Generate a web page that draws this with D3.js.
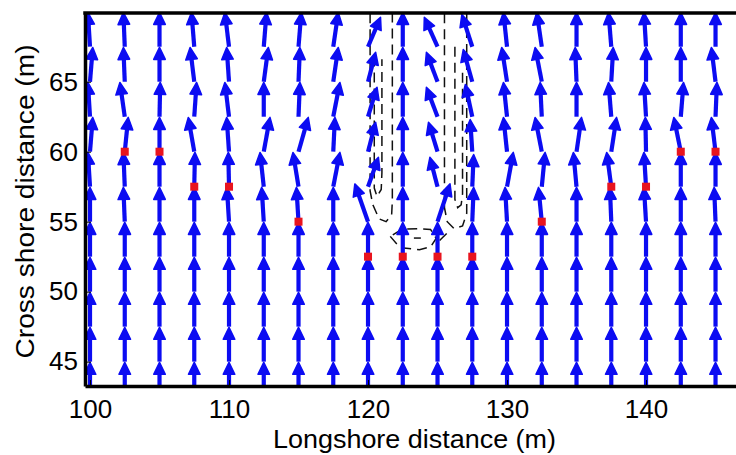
<!DOCTYPE html>
<html><head><meta charset="utf-8">
<script src="https://cdn.jsdelivr.net/npm/d3@7"></script>
<style>body{margin:0;background:#fff;overflow:hidden}</style>
</head><body><svg id="c" width="736" height="455"></svg>
<script>
// ---------- data ----------
const xGrid = [100,102.5,105,107.5,110,112.5,115,117.5,120,122.5,125,127.5,130,132.5,135,137.5,140,142.5,145];
const yGrid = [42.5,45,47.5,50,52.5,55,57.5,60,62.5,65,67.5];
// u components (m), one array per row of yGrid
const uRows = [
  [0,0,0,0,0,0,0,0,0,0,0,0,0,0,0,0,0,0,0],
  [0,0,0,0,0,0,0,0,0,0,0,0,0,0,0,0,0,0,0],
  [0,0,0,0,0,0,0,0,0,0,0,0,0,0,0,0,0,0,0],
  [0,0,0,0,0,0,0,0,0,0,0,0,0,0,0,0,0,0,0],
  [0,0,0,0,0,0,0,0,0,0,0,0,0,0,0,0,0,0,0],
  [0,-0.1,0,0,-0.15,-0.15,-0.15,0,-0.95,0,0.9,0.1,-0.14,-0.24,0,-0.1,-0.15,0,-0.1],
  [-0.15,-0.1,0,0.05,-0.05,-0.27,-0.4,0.48,0.75,0,-0.55,0.1,0.45,0.24,-0.23,-0.33,-0.15,0,0],
  [0.2,0.25,0,-0.43,-0.17,0.45,0.7,0.12,0.55,0,-0.65,-0.15,-0.26,-0.48,0.36,0.38,-0.05,-0.5,-0.3],
  [-0.15,-0.35,0.05,0.17,-0.3,0,0.1,0.48,0.65,0,-0.8,-0.5,-0.26,-0.12,0,-0.2,-0.15,0.2,0.1],
  [0.2,-0.1,0,-0.3,-0.17,0.33,0.1,0.36,0.55,0,-0.8,-0.65,-0.38,-0.48,-0.1,0.14,0,0,-0.3],
  [-0.15,-0.1,0,-0.2,-0.3,0.2,0.2,0.36,0.9,0,-0.95,-0.75,-0.26,-0.36,0,-0.2,-0.15,0,0]
];
// v components (m), one array per row of yGrid
const vRows = [
  [2.45,2.45,2.45,2.45,2.45,2.45,2.45,2.45,2.45,2.45,2.45,2.45,2.45,2.45,2.45,2.45,2.45,2.45,2.45],
  [2.45,2.45,2.45,2.45,2.45,2.45,2.45,2.45,2.45,2.45,2.45,2.45,2.45,2.45,2.45,2.45,2.45,2.45,2.45],
  [2.45,2.45,2.45,2.45,2.45,2.45,2.45,2.45,2.45,2.45,2.45,2.45,2.45,2.45,2.45,2.45,2.45,2.45,2.45],
  [2.45,2.45,2.45,2.45,2.45,2.45,2.45,2.45,2.45,2.45,2.45,2.45,2.45,2.45,2.45,2.45,2.45,2.45,2.45],
  [2.45,2.45,2.45,2.45,2.45,2.45,2.45,2.45,2.45,2.45,2.45,2.45,2.45,2.45,2.45,2.45,2.45,2.45,2.45],
  [2.45,2.45,2.45,2.45,2.45,2.45,2.45,2.45,2.7,2.45,2.7,2.45,2.45,2.45,2.45,2.45,2.45,2.45,2.45],
  [2.45,2.45,2.45,2.45,2.45,2.45,2.45,2.45,2.1,2.45,2.1,2.3,2.45,2.45,2.45,2.45,2.45,2.45,2.45],
  [2.45,2.45,2.45,2.45,2.45,2.45,2.45,2.45,2.1,2.45,2.1,2.3,2.45,2.45,2.45,2.45,2.45,2.45,2.45],
  [2.45,2.45,2.45,2.45,2.45,2.45,2.45,2.45,2.1,2.45,2.1,2.3,2.45,2.45,2.45,2.45,2.45,2.45,2.45],
  [2.45,2.45,2.45,2.45,2.45,2.45,2.45,2.45,2.1,2.45,2.1,2.3,2.45,2.45,2.45,2.45,2.45,2.45,2.45],
  [2.45,2.45,2.45,2.45,2.45,2.45,2.45,2.45,2.1,2.45,2.1,2.3,2.45,2.45,2.45,2.45,2.45,2.45,2.45]
];
// red markers
const redX = [102.5,105,107.5,110,115,120,122.5,125,127.5,132.5,137.5,140,142.5,145];
const redY = [60,60,57.5,57.5,55,52.5,52.5,52.5,52.5,55,57.5,57.5,60,60];
// dashed contour lines (data coordinates)
const contourLeftOuter = [[120.15,69.9],[120.15,57.2],[120.35,56.2],[120.8,55.2],[121.3,55.0],[121.7,55.5],[121.75,56.5],[121.75,69.9]];
const contourLeftInner = [[120.45,66.8],[120.45,57.4],[120.65,56.8],[120.95,57.3],[121.0,58.5],[121.0,66.6]];
const contourRightOuter = [[125.5,69.9],[125.5,56.0],[125.7,55.0],[126.2,54.5],[126.8,54.7],[127.1,55.6],[127.1,69.9]];
const contourRightInner = [[126.25,67.5],[126.25,56.6],[126.45,56.0],[126.7,56.2],[126.8,57.0],[126.8,66.0]];
const contourCenter = [[121.6,53.95],[122.3,53.15],[123.7,53.0],[124.5,53.2],[124.9,53.8],[124.5,54.45],[123.7,54.5],[122.45,54.47],[121.6,53.95]];
const contourCenterInner = [[123.3,53.83],[123.8,53.83]];
const contourCenterRight = [[125.15,53.65],[125.7,54.2]];
const contours = [contourLeftOuter,contourLeftInner,contourRightOuter,contourRightInner,contourCenter,contourCenterInner,contourCenterRight];
const xTicks = [100,110,120,130,140];
const yTicks = [45,50,55,60,65];
const xLabel = "Longshore distance (m)";
const yLabel = "Cross shore distance (m)";

// ---------- layout ----------
const L = 85, R = 745, T = 13, B = 386;
const x = d3.scaleLinear().domain([99.64, 147.12]).range([L, R]);
const y = d3.scaleLinear().domain([43.26, 69.91]).range([B, T]);
const svg = d3.select("#c");
const FONT = "'Liberation Sans', Arial, sans-serif";
const BLUE = "#0c0cf2", RED = "#e8141e";

svg.append("rect").attr("width",736).attr("height",455).attr("fill","#fff");
svg.append("defs").append("clipPath").attr("id","clip")
  .append("rect").attr("x",L).attr("y",T).attr("width",R-L).attr("height",B-T);

const plot = svg.append("g").attr("clip-path","url(#clip)");

// contours
const line = d3.line().x(d=>x(d[0])).y(d=>y(d[1]));
plot.append("g").selectAll("path").data(contours).join("path")
  .attr("d", line).attr("fill","none").attr("stroke","#111")
  .attr("stroke-width",1.5).attr("stroke-dasharray","10,6");

// arrows
const arrows = [];
yGrid.forEach((yy,i)=>xGrid.forEach((xx,j)=>arrows.push({x:xx,y:yy,u:uRows[i][j],v:vRows[i][j]})));
const ag = plot.append("g");
arrows.forEach(a=>{
  const x0 = x(a.x), y0 = y(a.y), x1 = x(a.x+a.u), y1 = y(a.y+a.v);
  const dx = x1-x0, dy = y1-y0, len = Math.hypot(dx,dy);
  const ux = dx/len, uy = dy/len, nx = -uy, ny = ux;
  const h = 12, w = 5.8;
  ag.append("line").attr("x1",x0).attr("y1",y0)
    .attr("x2",x1-ux*h*0.6).attr("y2",y1-uy*h*0.6)
    .attr("stroke",BLUE).attr("stroke-width",4.2);
  ag.append("path").attr("d",
     `M${x1},${y1}L${x1-ux*h+nx*w},${y1-uy*h+ny*w}L${x1-ux*h-nx*w},${y1-uy*h-ny*w}Z`)
    .attr("fill",BLUE).attr("stroke",BLUE).attr("stroke-width",1.5).attr("stroke-linejoin","round");
});

// red markers
plot.append("g").selectAll("rect").data(redX.map((d,i)=>[d,redY[i]])).join("rect")
  .attr("x",d=>x(d[0])-4).attr("y",d=>y(d[1])-4)
  .attr("width",8).attr("height",8).attr("fill",RED);

// axes
const xAxis = d3.axisBottom(x).tickValues(xTicks).tickSizeInner(-6).tickSizeOuter(0).tickPadding(14).tickFormat(d3.format("d"));
const yAxis = d3.axisLeft(y).tickValues(yTicks).tickSizeInner(-6).tickSizeOuter(0).tickPadding(7).tickFormat(d3.format("d"));
const gx = svg.append("g").attr("transform",`translate(0,${B})`).call(xAxis);
const gy = svg.append("g").attr("transform",`translate(${L},0)`).call(yAxis);
[gx,gy].forEach(g=>{
  g.select(".domain").attr("stroke","#000").attr("stroke-width",3.5);
  g.selectAll(".tick line").attr("stroke","#000").attr("stroke-width",1);
  g.selectAll(".tick text").attr("fill","#000").style("font-family",FONT).style("font-size","26px");
});
// top / right frame lines
svg.append("line").attr("x1",L-1.75).attr("x2",R).attr("y1",T).attr("y2",T)
  .attr("stroke","#000").attr("stroke-width",3.5);
svg.append("line").attr("x1",R).attr("x2",R).attr("y1",T).attr("y2",B)
  .attr("stroke","#000").attr("stroke-width",3.5);

// labels
svg.append("text").attr("x",414.5).attr("y",448).attr("text-anchor","middle")
  .attr("textLength",283).attr("lengthAdjust","spacingAndGlyphs")
  .style("font-family",FONT).style("font-size","25px").attr("fill","#000").text(xLabel);
svg.append("text").attr("transform","translate(34,201.5) rotate(-90)").attr("text-anchor","middle")
  .attr("textLength",314).attr("lengthAdjust","spacingAndGlyphs")
  .style("font-family",FONT).style("font-size","25px").attr("fill","#000").text(yLabel);
</script>
</body></html>
